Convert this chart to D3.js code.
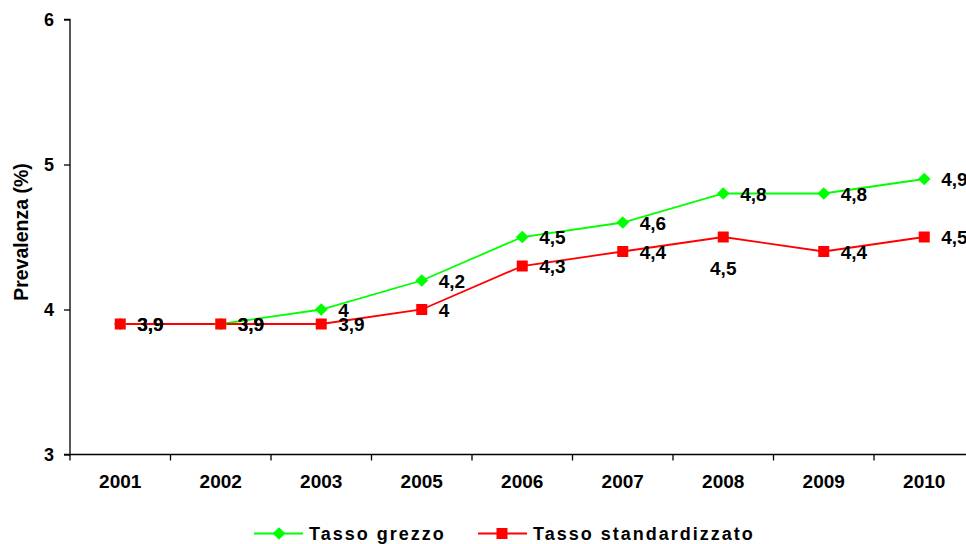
<!DOCTYPE html>
<html>
<head>
<meta charset="utf-8">
<script src="https://cdn.jsdelivr.net/npm/d3@7"></script>
<style>
  html, body { margin: 0; padding: 0; background: #fff; }
  svg { display: block; font-family: Arial, "Liberation Sans", sans-serif; }
</style>
</head>
<body>
<svg id="chart" width="966" height="544"></svg>
<script>
// Prevalence by year: crude and standardized rates
const years = ["2001", "2002", "2003", "2005", "2006", "2007", "2008", "2009", "2010"];
const tassoGrezzo = [3.9, 3.9, 4.0, 4.2, 4.5, 4.6, 4.8, 4.8, 4.9];
const tassoStandardizzato = [3.9, 3.9, 3.9, 4.0, 4.3, 4.4, 4.5, 4.4, 4.5];
const yTicks = [3, 4, 5, 6];
const seriesNames = ["Tasso grezzo", "Tasso standardizzato"];

const svg = d3.select("#chart");
const plotLeft = 70, plotRight = 974.5, plotTop = 19.5, plotBottom = 454.5;

const x = d3.scaleBand().domain(years).range([plotLeft, plotRight]).padding(0);
const y = d3.scaleLinear().domain([3, 6]).range([plotBottom, plotTop]);
const fmt = v => String(v).replace(".", ",");

// Y axis
const yAxis = svg.append("g")
  .attr("transform", `translate(${plotLeft},0)`)
  .call(d3.axisLeft(y).tickValues(yTicks).tickSize(6).tickPadding(10).tickFormat(d3.format("d")));
yAxis.select(".domain").attr("stroke", "#000").attr("stroke-width", 1.3).attr("d", `M-6,${plotTop}H0V${plotBottom}H-6`);
yAxis.selectAll(".tick line").attr("stroke", "#000").attr("stroke-width", 1.3);
yAxis.selectAll(".tick text").attr("font-size", 18).attr("font-weight", "bold").attr("fill", "#000")
  .attr("font-family", "Arial, 'Liberation Sans', sans-serif");

// X axis with ticks at category boundaries
const xAxis = svg.append("g").attr("transform", `translate(0,${plotBottom})`);
xAxis.append("line").attr("x1", plotLeft).attr("x2", plotRight).attr("y1", 0).attr("y2", 0)
  .attr("stroke", "#000").attr("stroke-width", 1.3);
xAxis.selectAll("line.tk").data(years).join("line").attr("class", "tk")
  .attr("x1", d => x(d)).attr("x2", d => x(d)).attr("y1", 0).attr("y2", 6)
  .attr("stroke", "#000").attr("stroke-width", 1.3);
xAxis.selectAll("text").data(years).join("text")
  .attr("x", d => x(d) + x.bandwidth() / 2).attr("y", 33)
  .attr("text-anchor", "middle").attr("font-size", 19).attr("font-weight", "bold").text(d => d);

// Y axis title
svg.append("text")
  .attr("transform", "translate(28,232) rotate(-90)")
  .attr("text-anchor", "middle").attr("font-size", 19.5).attr("font-weight", "bold")
  .text("Prevalenza (%)");

const cx = d => x(d) + x.bandwidth() / 2;
const line = d3.line().x(d => cx(d.year)).y(d => y(d.v));

function drawSeries(values, color) {
  const data = years.map((yr, i) => ({ year: yr, v: values[i] }));
  svg.append("path").datum(data).attr("d", line)
    .attr("fill", "none").attr("stroke", color).attr("stroke-width", 1.8);
  return data;
}

const green = drawSeries(tassoGrezzo, "#00ff00");
const red = drawSeries(tassoStandardizzato, "#ff0000");

// Markers: diamonds are squares turned 45 degrees
const diamondSide = 9;
svg.selectAll("rect.dm").data(green).join("rect").attr("class", "dm")
  .attr("x", -diamondSide / 2).attr("y", -diamondSide / 2)
  .attr("width", diamondSide).attr("height", diamondSide)
  .attr("transform", d => `translate(${cx(d.year)},${y(d.v)}) rotate(45)`)
  .attr("fill", "#00ff00");
svg.selectAll("rect.sq").data(red).join("rect").attr("class", "sq")
  .attr("x", d => cx(d.year) - 5.5).attr("y", d => y(d.v) - 5.5)
  .attr("width", 11).attr("height", 11).attr("fill", "#ff0000");

// Value labels
function labels(data, cls, below) {
  svg.selectAll("text." + cls).data(data).join("text").attr("class", cls)
    .attr("x", d => below(d) ? cx(d.year) : cx(d.year) + 17)
    .attr("y", d => below(d) ? y(d.v) + 38 : y(d.v) + 7)
    .attr("text-anchor", d => below(d) ? "middle" : "start")
    .attr("font-size", 19).attr("font-weight", "bold").attr("fill", "#000")
    .text(d => fmt(d.v));
}
labels(green, "lg", () => false);
labels(red, "lr", d => d.year === "2008");

// Legend
const legend = svg.append("g").attr("transform", "translate(0,533.5)");
const items = [
  { name: seriesNames[0], color: "#00ff00", x0: 254, type: "diamond" },
  { name: seriesNames[1], color: "#ff0000", x0: 478, type: "square" }
];
items.forEach(it => {
  legend.append("line").attr("x1", it.x0).attr("x2", it.x0 + 49).attr("y1", 0).attr("y2", 0)
    .attr("stroke", it.color).attr("stroke-width", 1.8);
  if (it.type === "diamond") {
    legend.append("rect").attr("x", -diamondSide / 2).attr("y", -diamondSide / 2)
      .attr("width", diamondSide).attr("height", diamondSide)
      .attr("transform", `translate(${it.x0 + 25},0) rotate(45)`).attr("fill", it.color);
  } else {
    legend.append("rect").attr("x", it.x0 + 24 - 5.5).attr("y", -5.5).attr("width", 11).attr("height", 11).attr("fill", it.color);
  }
  legend.append("text").attr("x", it.x0 + 55).attr("y", 6)
    .attr("font-size", 18).attr("font-weight", "bold").attr("letter-spacing", 2)
    .text(it.name);
});
</script>
</body>
</html>
